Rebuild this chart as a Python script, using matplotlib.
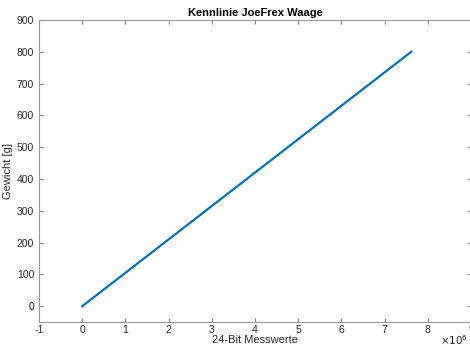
import numpy as np
import matplotlib
matplotlib.use("Agg")
import matplotlib.pyplot as plt

# Kennlinie: Rohwert (24-Bit) -> Gewicht
messwerte = [0, 7.62e6]
gewicht = [0, 800]
x_ticks = np.arange(-1, 10)
y_ticks = np.arange(0, 901, 100)

plt.rcParams['font.family'] = ['Liberation Sans', 'DejaVu Sans']
plt.rcParams['font.size'] = 7.5
plt.rcParams['axes.unicode_minus'] = False

fig = plt.figure(figsize=(4.7, 3.49), dpi=100)
ax = fig.add_axes([0.083, 0.077, 0.919, 0.866])

ax.plot(messwerte, gewicht, color="#0072BD", linewidth=1.6)

ax.set_xlim(-1e6, 9e6)
ax.set_ylim(-50, 900)
ax.set_xticks(x_ticks * 1e6)
ax.set_xticklabels([str(t) for t in x_ticks])
ax.set_yticks(y_ticks)

for s in ax.spines.values():
    s.set_color("0.6")
    s.set_linewidth(0.8)
ax.tick_params(direction="in", length=3, width=0.6, color="0.4",
               labelcolor="0.15", top=True, right=True)
ax.tick_params(axis="x", pad=2)

# Exponent wie bei MATLAB unten rechts
fig.text(0.997, 1 - 340 / 349, r"$\times10^6$", ha="right", va="center",
         fontsize=7.5, color="0.15")

ax.set_title("Kennlinie JoeFrex Waage", fontsize=8, fontweight="bold", pad=3)
ax.set_xlabel("24-Bit Messwerte", fontsize=8, color="0.15", labelpad=0)
ax.set_ylabel("Gewicht [g]", fontsize=8, color="0.15", labelpad=3)

fig.savefig("out.png", dpi=100)
